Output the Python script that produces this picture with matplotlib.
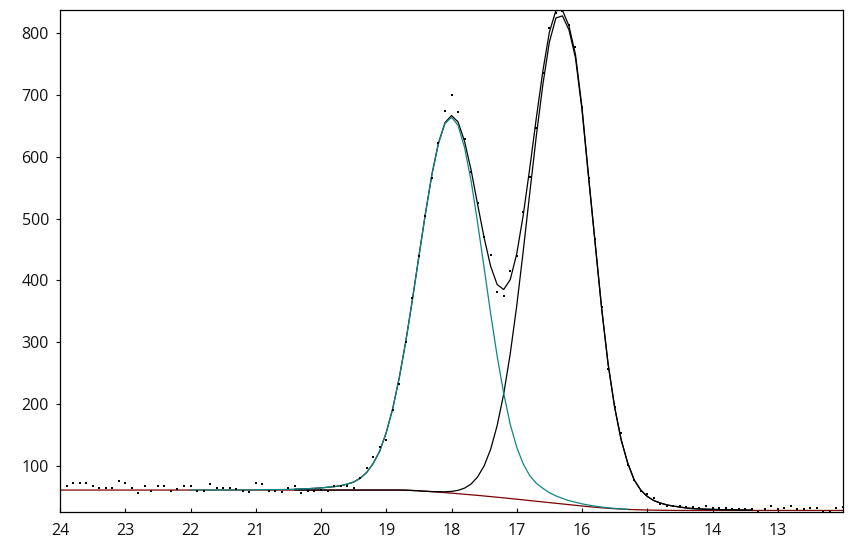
import numpy as np
import matplotlib
matplotlib.use("Agg")
import matplotlib.pyplot as plt

nan = np.nan

# elution positions (x axis, reversed), one per data point
x = [24.0, 23.9, 23.8, 23.7, 23.6, 23.5, 23.4, 23.3, 23.2, 23.1,
     23.0, 22.9, 22.8, 22.7, 22.6, 22.5, 22.4, 22.3, 22.2, 22.1,
     22.0, 21.9, 21.8, 21.7, 21.6, 21.5, 21.4, 21.3, 21.2, 21.1,
     21.0, 20.9, 20.8, 20.7, 20.6, 20.5, 20.4, 20.3, 20.2, 20.1,
     20.0, 19.9, 19.8, 19.7, 19.6, 19.5, 19.4, 19.3, 19.2, 19.1,
     19.0, 18.9, 18.8, 18.7, 18.6, 18.5, 18.4, 18.3, 18.2, 18.1,
     18.0, 17.9, 17.8, 17.7, 17.6, 17.5, 17.4, 17.3, 17.2, 17.1,
     17.0, 16.9, 16.8, 16.7, 16.6, 16.5, 16.4, 16.3, 16.2, 16.1,
     16.0, 15.9, 15.8, 15.7, 15.6, 15.5, 15.4, 15.3, 15.2, 15.1,
     15.0, 14.9, 14.8, 14.7, 14.6, 14.5, 14.4, 14.3, 14.2, 14.1,
     14.0, 13.9, 13.8, 13.7, 13.6, 13.5, 13.4, 13.3, 13.2, 13.1,
     13.0, 12.9, 12.8, 12.7, 12.6, 12.5, 12.4, 12.3, 12.2, 12.1,
     12.0]

# measured signal (dots)
signal = [70, 68, 72, 72, 72, 67, 65, 65, 65, 75,
          72, 65, 56, 68, 59, 67, 67, 59, 63, 67,
          67, 60, 60, 70, 64, 64, 65, 62, 59, 58,
          72, 70, 60, 59, 58, 64, 67, 56, 59, 59,
          61, 59, 68, 67, 68, 65, 80, 96, 115, 131,
          142, 190, 233, 300, 372, 440, 505, 565, 623, 674,
          700, 673, 629, 575, 525, 471, 442, 381, 375, 415,
          439, 511, 567, 647, 735, 808, 833, 836, 813, 778,
          680, 565, 467, 357, 256, 196, 153, 101, 77, 60,
          55, 48, 39, 35.5, 35.5, 34.4, 33.4, 33.4, 31.8, 35.5,
          31.8, 31.8, 31.8, 30, 30, 30, 30, 26.3, 30, 35.5,
          30, 32.7, 35.5, 30, 30, 31.8, 31.8, 26.3, 26.3, 31.8,
          33.4]

# fitted baseline
baseline = [61, 61, 61, 61, 61, 61, 61, 61, 61, 61,
            61, 61, 61, 61, 61, 61, 61, 61, 61, 61,
            61, 61, 61, 61, 61, 61, 61, 61, 61, 61,
            61, 61, 61, 61, 61, 61, 61, 61, 61, 61,
            61, 61, 61, 61, 61, 61, 61, 61, 61, 61,
            61, 61, 61, 60.8, 60.3, 59.7, 59.0, 58.3, 57.6, 56.8,
            56.0, 55.1, 54.2, 53.3, 52.4, 51.4, 50.4, 49.4, 48.4, 47.3,
            46.2, 45.1, 44.0, 42.9, 41.8, 40.7, 39.6, 38.5, 37.4, 36.3,
            35.2, 34.2, 33.2, 32.3, 31.5, 30.8, 30.2, 29.7, 29.3, 29.0,
            28.7, 28.5, 28.3, 28.2, 28.1, 28, 28, 28, 28, 28,
            28, 28, 28, 28, 28, 28, 28, 28, 28, 28,
            28, 28, 28, 28, 28, 28, 28, 28, 28, 28,
            28]

# peak 1 height above baseline (teal component)
peak1 = [nan, nan, nan, nan, nan, nan, nan, nan, nan, nan,
         nan, nan, nan, nan, nan, nan, nan, nan, nan, nan,
         0.05, 0.05, 0.1, 0.1, 0.1, 0.15, 0.2, 0.2, 0.25, 0.3,
         0.4, 0.5, 0.6, 0.7, 0.9, 1.1, 1.4, 1.8, 2.2, 2.8,
         3.5, 4.5, 5.5, 7, 9.5, 13, 19, 28.5, 43, 63,
         93, 132, 182, 241, 308, 379, 449, 513, 564, 597,
         608, 596, 561, 508, 441, 369, 296, 228, 169, 120,
         84, 58, 40, 29, 22, 16, 12, 9, 6.5, 5,
         3.5, 2.5, 1.8, 1.2, 0.8, 0.5, 0.3, 0.2, nan, nan,
         nan, nan, nan, nan, nan, nan, nan, nan, nan, nan,
         nan, nan, nan, nan, nan, nan, nan, nan, nan, nan,
         nan, nan, nan, nan, nan, nan, nan, nan, nan, nan,
         nan]

# peak 2 height above baseline (black component)
peak2 = [nan, nan, nan, nan, nan, nan, nan, nan, nan, nan,
         nan, nan, nan, nan, nan, nan, nan, nan, nan, nan,
         nan, nan, nan, nan, nan, nan, nan, nan, nan, nan,
         nan, nan, nan, nan, nan, nan, 0, 0, 0, 0,
         0, 0, 0, 0, 0, 0, 0, 0, 0, 0,
         0, 0, 0.01, 0.01, 0.02, 0.05, 0.13, 0.3, 0.67, 1.4,
         2.8, 5.4, 9.9, 17.5, 29.8, 48.7, 76.5, 116, 168, 234,
         313, 403, 498, 591, 675, 745, 785, 789.5, 768, 724,
         641, 533, 428, 323, 233, 164, 112, 75, 48, 32,
         22, 15.5, 11.7, 8.8, 6.9, 5.5, 4, 3, 2.5, 2,
         1.7, 1.4, 1.2, 1.0, 0.8, 0.6, 0.5, nan, nan, nan,
         nan, nan, nan, nan, nan, nan, nan, nan, nan, nan,
         nan]

x_ticks = [24, 23, 22, 21, 20, 19, 18, 17, 16, 15, 14, 13]
y_ticks = [100, 200, 300, 400, 500, 600, 700, 800]

xa = np.array(x)
b = np.array(baseline, dtype=float)
g1 = np.array(peak1, dtype=float)
g2 = np.array(peak2, dtype=float)
teal_curve = b + g1
peak2_curve = b + g2
total_curve = b + np.nan_to_num(g1) + g2

plt.rcParams['font.family'] = ['Open Sans', 'DejaVu Sans']

fig = plt.figure(figsize=(8.53, 5.40), dpi=100)
ax = fig.add_axes([60 / 853, 28 / 540, 783 / 853, 502 / 540])

ax.plot(xa, b, color='#7a0000', lw=0.9, zorder=2)
ax.plot(xa, peak2_curve, color='black', lw=0.9, zorder=3)
ax.plot(xa, total_curve, color='black', lw=0.9, zorder=4)
ax.plot(xa, teal_curve, color='#0f8585', lw=0.9, zorder=5)
ax.plot(xa, signal, linestyle='none', marker='s', markersize=1.7,
        markerfacecolor='black', markeredgewidth=0, color='black', zorder=6)

ax.set_xlim(24, 12)
ax.set_ylim(25.5, 837.5)
ax.set_xticks(x_ticks)
ax.set_xticklabels([str(v) for v in x_ticks])
ax.set_yticks(y_ticks)
ax.set_yticklabels([str(v) for v in y_ticks])

ax.tick_params(axis='x', direction='in', length=3, width=0.8, pad=8,
               labelsize=11.5, colors='#111111')
ax.tick_params(axis='y', direction='out', length=3, width=0.8, pad=5,
               labelsize=11.5, colors='#111111')
for s in ax.spines.values():
    s.set_linewidth(0.9)
    s.set_color('black')

fig.savefig('out.png', dpi=100)
